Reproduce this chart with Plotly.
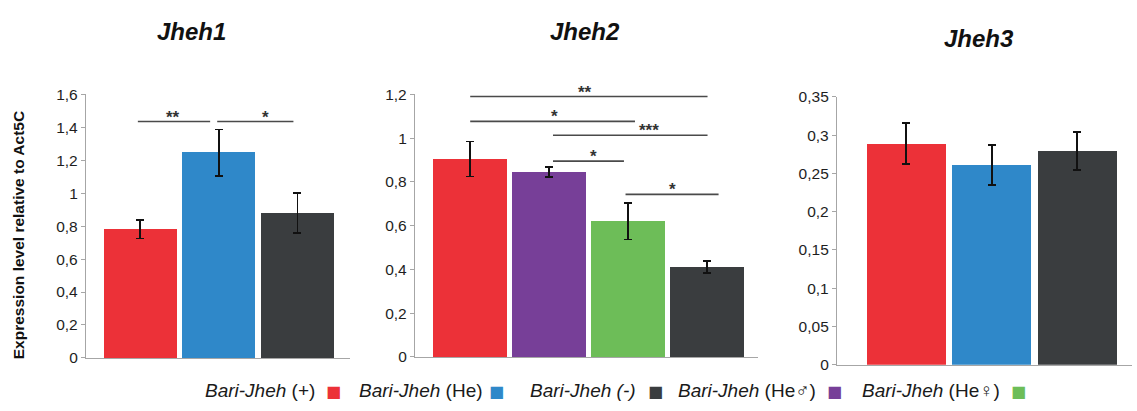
import plotly.graph_objects as go

W, H = 1137, 411

# ---------------- data ----------------
panel_titles = ["Jheh1", "Jheh2", "Jheh3"]

jheh1_groups = ["Bari-Jheh (+)", "Bari-Jheh (He)", "Bari-Jheh (-)"]
jheh1_values = [0.78, 1.245, 0.88]
jheh1_errors = [0.056, 0.142, 0.12]

jheh2_groups = ["Bari-Jheh (+)", "Bari-Jheh (He♂)", "Bari-Jheh (He♀)", "Bari-Jheh (-)"]
jheh2_values = [0.905, 0.845, 0.62, 0.41]
jheh2_errors = [0.08, 0.022, 0.083, 0.027]

jheh3_groups = ["Bari-Jheh (+)", "Bari-Jheh (He)", "Bari-Jheh (-)"]
jheh3_values = [0.289, 0.261, 0.279]
jheh3_errors = [0.027, 0.026, 0.025]

# significance brackets: (x start, x end, height, label, label x) in category units
jheh1_sig = [(-0.03, 0.89, 1.435, "**", 0.42), (0.98, 1.95, 1.435, "*", 1.6)]
jheh2_sig = [
    (0.0, 3.01, 1.19, "**", 1.46),
    (0.0, 2.09, 1.076, "*", 1.07),
    (1.05, 3.01, 1.013, "***", 2.27),
    (1.05, 1.95, 0.895, "*", 1.56),
    (1.97, 3.15, 0.743, "*", 2.56),
]

jheh1_ticks = [0, 0.2, 0.4, 0.6, 0.8, 1.0, 1.2, 1.4, 1.6]
jheh1_ticktext = ["0", "0,2", "0,4", "0,6", "0,8", "1", "1,2", "1,4", "1,6"]
jheh2_ticks = [0, 0.2, 0.4, 0.6, 0.8, 1.0, 1.2]
jheh2_ticktext = ["0", "0,2", "0,4", "0,6", "0,8", "1", "1,2"]
jheh3_ticks = [0, 0.05, 0.1, 0.15, 0.2, 0.25, 0.3, 0.35]
jheh3_ticktext = ["0", "0,05", "0,1", "0,15", "0,2", "0,25", "0,3", "0,35"]

legend_names = ["Bari-Jheh", "Bari-Jheh", "Bari-Jheh", "Bari-Jheh", "Bari-Jheh"]
legend_suffix = [" (+)", " (He)", " (-)", " (He♂)", " (He♀)"]
legend_suffix_italic = [False, False, True, False, False]

colors = {
    "Bari-Jheh (+)": "#EC3138",
    "Bari-Jheh (He)": "#2F88C9",
    "Bari-Jheh (-)": "#3A3D3F",
    "Bari-Jheh (He♂)": "#773F98",
    "Bari-Jheh (He♀)": "#6DBD58",
}
legend_colors = ["#EC3138", "#2F88C9", "#3A3D3F", "#773F98", "#6DBD58"]

# ---------------- layout geometry (pixels) ----------------
def px_x(v):
    return v / W

def px_y(v):
    return 1 - v / H

panels = [
    dict(groups=jheh1_groups, values=jheh1_values, errors=jheh1_errors,
         xdom=(86, 350), ydom=(364, 89), yrange=(0, 1.6), xrange=(-0.69, 2.67),
         ticks=jheh1_ticks, ticktext=jheh1_ticktext, width=0.93, sig=jheh1_sig,
         title_xy=(191, 23)),
    dict(groups=jheh2_groups, values=jheh2_values, errors=jheh2_errors,
         xdom=(415, 758), ydom=(363, 89), yrange=(0, 1.2), xrange=(-0.70, 3.65),
         ticks=jheh2_ticks, ticktext=jheh2_ticktext, width=0.94, sig=jheh2_sig,
         title_xy=(585, 23)),
    dict(groups=jheh3_groups, values=jheh3_values, errors=jheh3_errors,
         xdom=(837, 1132), ydom=(371, 91.7), yrange=(0, 0.35), xrange=(-0.81, 2.64),
         ticks=jheh3_ticks, ticktext=jheh3_ticktext, width=0.92, sig=[],
         title_xy=(979, 31)),
]

fig = go.Figure()
shapes = []
annotations = []
font_family = "Liberation Sans, Arial, sans-serif"
axis_color = "#A6A6A6"

for i, p in enumerate(panels):
    n = i + 1
    xa = "x" if n == 1 else f"x{n}"
    ya = "y" if n == 1 else f"y{n}"
    fig.add_trace(go.Bar(
        x=list(range(len(p["values"]))),
        y=p["values"],
        width=p["width"],
        marker=dict(color=[colors[g] for g in p["groups"]], line=dict(width=0)),
        error_y=dict(type="data", array=p["errors"], visible=True,
                     color="#111111", thickness=1.7, width=4),
        xaxis=xa, yaxis=ya, showlegend=False, hoverinfo="skip",
    ))
    xkey = "xaxis" if n == 1 else f"xaxis{n}"
    ykey = "yaxis" if n == 1 else f"yaxis{n}"
    fig.update_layout(**{
        xkey: dict(domain=[px_x(p["xdom"][0]), px_x(p["xdom"][1])],
                   range=list(p["xrange"]), showgrid=False, zeroline=False,
                   showticklabels=False, ticks="", showline=True,
                   linecolor=axis_color, linewidth=1.3, anchor=ya, fixedrange=True),
        ykey: dict(domain=[px_y(p["ydom"][0]), px_y(p["ydom"][1])],
                   range=list(p["yrange"]), showgrid=False, zeroline=False,
                   tickvals=p["ticks"], ticktext=p["ticktext"], ticks="outside",
                   ticklen=4, tickcolor=axis_color, tickwidth=1.2,
                   showline=True, linecolor=axis_color, linewidth=1.3,
                   tickfont=dict(family=font_family, size=15.5, color="#1E1E1E"),
                   anchor=xa, fixedrange=True),
    })
    for (x0, x1, h, lab, lx) in p["sig"]:
        shapes.append(dict(type="line", xref=xa, yref=ya, x0=x0, x1=x1, y0=h, y1=h,
                           line=dict(color="#4A4A4A", width=1.7)))
        annotations.append(dict(xref=xa, yref=ya, x=lx, y=h, text=f"<b>{lab}</b>",
                                showarrow=False, yanchor="bottom", yshift=-7,
                                font=dict(family=font_family, size=17, color="#333333")))
    annotations.append(dict(xref="paper", yref="paper",
                            x=px_x(p["title_xy"][0]), y=px_y(p["title_xy"][1]),
                            text=f"<b><i>{panel_titles[i]}</i></b>", showarrow=False,
                            xanchor="center", yanchor="middle",
                            font=dict(family=font_family, size=24, color="#111111")))

# y-axis title
annotations.append(dict(xref="paper", yref="paper", x=px_x(18), y=px_y(236),
                        text="<b>Expression level relative to Act5C</b>", textangle=-90,
                        showarrow=False, xanchor="center", yanchor="middle",
                        font=dict(family=font_family, size=15.5, color="#111111")))

# custom legend (text followed by coloured square)
legend_text_x = [203, 357, 528, 676, 860]
legend_square_x = [333, 496, 655, 834, 1018]
legend_y = 398
for k in range(len(legend_names)):
    suf = legend_suffix[k]
    if legend_suffix_italic[k]:
        txt = f"<i>{legend_names[k]}{suf}</i>"
    else:
        txt = f"<i>{legend_names[k]}</i>{suf}"
    annotations.append(dict(xref="paper", yref="paper", x=px_x(legend_text_x[k]),
                            y=px_y(legend_y), text=txt, showarrow=False,
                            xanchor="left", yanchor="middle",
                            font=dict(family=font_family, size=19, color="#1A1A1A")))
    annotations.append(dict(xref="paper", yref="paper", x=px_x(legend_square_x[k]),
                            y=px_y(legend_y + 1), text="■", showarrow=False,
                            xanchor="center", yanchor="middle",
                            font=dict(family="DejaVu Sans", size=16, color=legend_colors[k])))

fig.update_layout(
    width=W, height=H,
    margin=dict(l=0, r=0, t=0, b=0),
    paper_bgcolor="white", plot_bgcolor="white",
    shapes=shapes, annotations=annotations,
    bargap=0, showlegend=False,
    font=dict(family=font_family),
)

fig.write_html("out.html", config={"displayModeBar": False})
